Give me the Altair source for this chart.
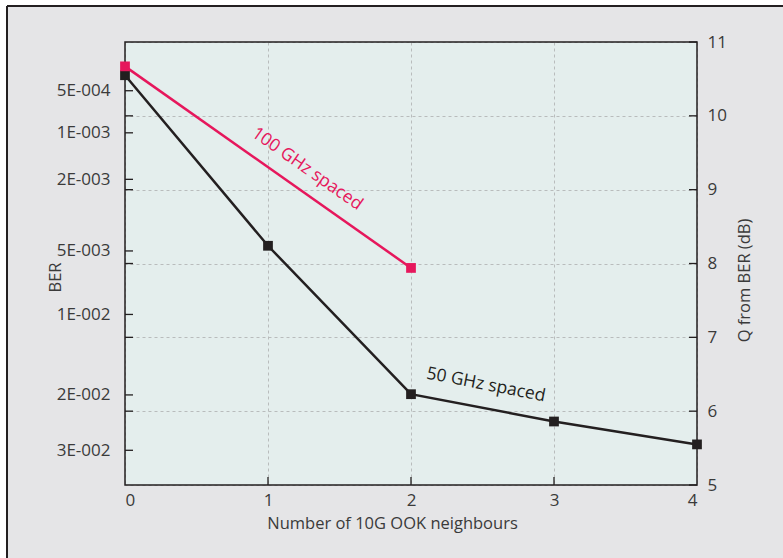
import altair as alt
import pandas as pd

# ---- data ----
neighbours_50 = [0, 1, 2, 3, 4]
q_50 = [10.55, 8.24, 6.23, 5.86, 5.55]
neighbours_100 = [0, 2]
q_100 = [10.67, 7.94]
series_names = ["50 GHz spaced", "100 GHz spaced"]
series_colors = ["#231f20", "#e6175c"]

ber_labels = ["5E-004", "1E-003", "2E-003", "5E-003", "1E-002", "2E-002", "3E-002"]
ber_pos = [10.34, 9.77, 9.14, 8.17, 7.31, 6.22, 5.47]
q_ticks = [5, 6, 7, 8, 9, 10, 11]
x_ticks = [0, 1, 2, 3, 4]

W, H = 572, 443
FONT = "Open Sans"
TXT = "#3a3a3a"

df = pd.DataFrame({
    "n": neighbours_50 + neighbours_100,
    "q": q_50 + q_100,
    "series": [series_names[0]] * len(q_50) + [series_names[1]] * len(q_100),
})

xs = alt.Scale(domain=[0, 4], nice=False, zero=False)
def ys():
    return alt.Scale(domain=[5, 11], nice=False, zero=False)

label_expr = "".join(
    f"abs(datum.value - {p}) < 0.01 ? '{l}' : " for p, l in zip(ber_pos, ber_labels)
) + "''"

x_axis = alt.Axis(values=x_ticks, title="Number of 10G OOK neighbours", grid=True,
                  gridDash=[3, 3], gridColor="#b9bcbc", gridWidth=1, tickSize=0,
                  domain=False, labelPadding=7, labelFlush=True,
                  titleX=267, titleY=38, titleBaseline="middle")

dummy = pd.DataFrame({"a": [0]})

# decorative frame (white margin + dark border)
white_left = alt.Chart(dummy).mark_rect(color="white").encode(
    x=alt.value(-125), x2=alt.value(-118), y=alt.value(-42), y2=alt.value(H + 73))
white_top = alt.Chart(dummy).mark_rect(color="white").encode(
    x=alt.value(-125), x2=alt.value(W + 86), y=alt.value(-42), y2=alt.value(-36))
frame_left = alt.Chart(dummy).mark_rule(color="#231f20", strokeWidth=2).encode(
    x=alt.value(-118), y=alt.value(-36), y2=alt.value(H + 73))
frame_top = alt.Chart(dummy).mark_rule(color="#231f20", strokeWidth=2).encode(
    x=alt.value(-118), x2=alt.value(W + 86), y=alt.value(-36))

# plot border drawn above the gridlines
plot_border = alt.Chart(dummy).mark_rect(fill="transparent", stroke="#231f20", strokeWidth=1.5).encode(
    x=alt.value(0), x2=alt.value(W), y=alt.value(0), y2=alt.value(H))

# inward ticks
left_tick_df = pd.DataFrame({"q": ber_pos + q_ticks[1:-1]})
left_ticks = alt.Chart(left_tick_df).mark_rule(color="#231f20", strokeWidth=1.3).encode(
    x=alt.value(0), x2=alt.value(8),
    y=alt.Y("q:Q", scale=ys(), axis=alt.Axis(
        orient="left", values=ber_pos, labelExpr=label_expr, title="BER",
        grid=False, tickSize=0, domain=False, labelPadding=15,
        titleX=-70, titleY=235, titleAngle=270, titleBaseline="middle")))

right_tick_df = pd.DataFrame({"q": q_ticks})
right_ticks = alt.Chart(right_tick_df).mark_rule(color="#231f20", strokeWidth=1.3).encode(
    x=alt.value(W - 8), x2=alt.value(W),
    y=alt.Y("q:Q", scale=ys(), axis=alt.Axis(
        orient="right", values=q_ticks, title="Q from BER (dB)", grid=True,
        gridDash=[3, 3], gridColor="#b9bcbc", gridWidth=1, tickSize=0, domain=False,
        labelPadding=10, titleX=47, titleY=238, titleAngle=270,
        titleBaseline="middle")))

bottom_tick_df = pd.DataFrame({"n": x_ticks[1:-1]})
bottom_ticks = alt.Chart(bottom_tick_df).mark_rule(color="#231f20", strokeWidth=1.3).encode(
    x=alt.X("n:Q", scale=xs, axis=x_axis), y=alt.value(H - 8), y2=alt.value(H))

lines = alt.Chart(df).mark_line(
    strokeWidth=2.5,
    point=alt.OverlayMarkDef(shape="square", size=95, filled=True, opacity=1),
).encode(
    x=alt.X("n:Q", scale=xs, axis=x_axis),
    y=alt.Y("q:Q", scale=ys(), axis=None),
    color=alt.Color("series:N", scale=alt.Scale(domain=series_names, range=series_colors),
                    legend=None),
    order=alt.Order("n:Q"),
)

ann_100 = alt.Chart(pd.DataFrame({"n": [1.273], "q": [9.28], "t": [series_names[1]]})).mark_text(
    font=FONT, fontSize=17.5, color=series_colors[1], angle=35
).encode(x=alt.X("n:Q", scale=xs, axis=x_axis), y=alt.Y("q:Q", scale=ys(), axis=None), text="t:N")

ann_50 = alt.Chart(pd.DataFrame({"n": [2.524], "q": [6.354], "t": [series_names[0]]})).mark_text(
    font=FONT, fontSize=17.5, color=series_colors[0], angle=11
).encode(x=alt.X("n:Q", scale=xs, axis=x_axis), y=alt.Y("q:Q", scale=ys(), axis=None), text="t:N")

chart = alt.layer(
    white_left, white_top, frame_left, frame_top,
    left_ticks, right_ticks, bottom_ticks, plot_border, lines, ann_100, ann_50,
).resolve_scale(y="independent").properties(
    width=W, height=H,
    autosize=alt.AutoSizeParams(type="none"),
    padding={"left": 125, "top": 42, "right": 86, "bottom": 73},
    background="#e5e5e7",
).configure_view(
    fill="#e4eeed", stroke=None, strokeWidth=0
).configure_axis(
    labelFont=FONT, labelFontSize=17, labelColor=TXT,
    titleFont=FONT, titleFontSize=16.5, titleFontWeight="normal", titleColor=TXT,
)

chart.save("out.html", embed_options={"renderer": "svg", "actions": False})
